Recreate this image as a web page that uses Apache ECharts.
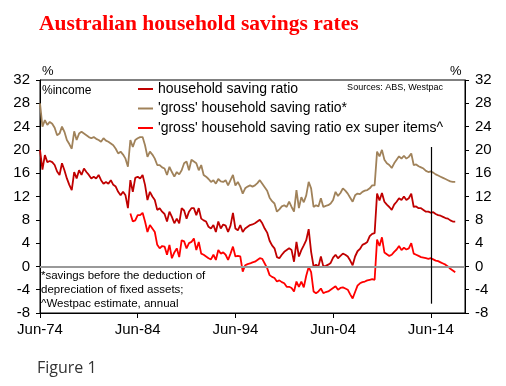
<!DOCTYPE html>
<html><head><meta charset="utf-8">
<script src="https://cdn.jsdelivr.net/npm/echarts@6/dist/echarts.min.js"></script>
<style>html,body{margin:0;padding:0;background:#fff}#c{width:506px;height:386px}</style>
</head><body><div id="c"></div>
<script>
// Quarterly categories Jun-74 .. Dec-17 (axis range)
const monthNames = ['Mar', 'Jun', 'Sep', 'Dec'];
const categories = [];
for (let i = 0; i < 175; i++) {
  const k = 1 + i;
  const yr = (1974 + Math.floor(k / 4)) % 100;
  categories.push(monthNames[k % 4] + '-' + (yr < 10 ? '0' + yr : '' + yr));
}
const yTicks = { min: -8, max: 32, interval: 4 };

// household saving ratio (from Jun-74)
const householdRatio = [
  20.0, 16.6, 19.1, 17.9, 18.1, 17.9, 17.4, 16.3, 15.7, 17.7,
  16.5, 15.1, 14.0, 13.1, 16.2, 15.1, 16.5, 15.7, 16.8, 16.2,
  15.7, 15.1, 15.4, 15.1, 15.7, 14.8, 14.2, 14.5, 14.2, 14.8,
  14.0, 13.7, 12.8, 12.2, 12.8, 12.2, 10.0, 14.8, 12.8, 15.2,
  15.4, 15.1, 15.7, 14.0, 11.4, 12.8, 12.0, 11.4, 9.7, 10.0,
  9.4, 9.0, 7.7, 9.4, 8.5, 7.4, 8.2, 7.4, 10.0, 9.6,
  8.2, 9.4, 10.0, 10.0, 8.8, 10.0, 8.2, 7.9, 7.7, 6.8,
  6.5, 7.1, 5.9, 7.7, 6.5, 7.2, 7.0, 5.9, 7.0, 9.2,
  6.5, 6.2, 7.1, 5.9, 6.5, 6.8, 7.1, 7.2, 7.4, 7.7,
  8.0, 7.4, 6.5, 5.8, 4.4, 3.6, 3.1, 1.6, 1.4, 2.0,
  2.5, 2.8, 3.1, 2.8, 0.8, 4.2, 1.7, 2.8, 3.6, 4.5,
  6.4, 2.5, 0.0, 0.3, 0.0, 1.7, 0.0, 0.1, 0.3, 0.6,
  1.5, 2.0, 1.4, 1.8, 2.2, 2.0, 1.7, 1.0, 0.2, 1.7,
  2.6, 3.0, 3.7, 3.9, 4.2, 5.2, 5.6, 5.7, 12.5, 11.3,
  12.6, 11.1, 10.6, 10.2, 9.7, 10.6, 11.1, 11.7, 11.4, 12.0,
  11.4, 11.7, 12.5, 10.2, 10.3, 10.0, 10.0, 9.7, 9.4, 9.4,
  9.2, 9.3, 9.0, 8.8, 8.7, 8.5, 8.3, 8.2, 7.9, 7.7, 7.7
];

// 'gross' household saving ratio* (from Jun-74)
const grossRatio = [
  28.0, 24.0, 25.1, 24.3, 24.8, 24.5, 23.8, 22.5, 22.8, 24.0,
  23.1, 21.7, 21.0, 20.2, 23.2, 21.7, 22.8, 23.1, 22.8, 22.5,
  22.2, 22.0, 22.2, 21.9, 21.7, 21.4, 22.0, 21.6, 21.4, 21.1,
  20.8, 20.2, 19.4, 19.7, 19.2, 18.5, 17.1, 21.7, 20.5, 21.7,
  22.0, 22.2, 22.2, 20.8, 18.8, 19.7, 19.2, 18.5, 17.4, 17.4,
  17.0, 16.8, 15.7, 17.1, 16.2, 15.4, 16.2, 15.8, 16.5, 17.7,
  18.0, 16.5, 18.3, 18.0, 17.7, 16.5, 17.4, 15.7, 15.4, 15.0,
  14.5, 14.8, 14.2, 15.0, 14.6, 14.5, 14.8, 13.9, 14.8, 15.7,
  13.9, 14.5, 13.7, 12.5, 13.4, 13.7, 13.9, 13.7, 13.9, 14.3,
  14.8, 14.2, 13.6, 13.0, 11.8, 11.2, 10.8, 9.4, 9.8, 10.3,
  10.5, 10.2, 11.1, 10.2, 9.4, 13.1, 10.0, 11.9, 11.0, 12.2,
  14.5, 13.4, 10.2, 10.5, 10.3, 11.7, 10.2, 10.4, 10.5, 10.8,
  11.4, 12.8, 12.1, 12.6, 13.4, 13.0, 12.5, 11.8, 11.1, 12.2,
  12.5, 12.4, 12.8, 13.0, 13.1, 13.4, 13.9, 13.9, 19.7, 18.9,
  20.0, 18.3, 17.7, 17.4, 16.9, 17.7, 18.3, 18.9, 18.5, 19.0,
  18.5, 18.8, 19.4, 17.4, 17.5, 17.2, 17.0, 16.8, 16.4, 16.2,
  16.3, 16.1, 15.8, 15.6, 15.4, 15.2, 15.0, 14.8, 14.6, 14.5, 14.5
];

// 'gross' household saving ratio ex super items^ (starts Sep-83)
const exSuperStart = 'Sep-83';
const exSuperRatio = [
  9.1, 7.7, 7.9, 8.8, 8.8, 9.2, 7.7, 5.9, 7.1, 6.5,
  5.9, 3.7, 3.1, 3.5, 3.4, 2.0, 3.7, 1.4, 2.4, 3.1,
  1.6, 4.5, 4.3, 3.1, 4.0, 4.2, 4.8, 2.8, 4.2, 2.2,
  2.0, 1.7, 1.4, 1.2, 2.0, 1.1, 2.8, 2.2, 2.4, 2.0,
  1.1, 2.2, 3.4, 1.7, 1.8, 1.7, -0.9, 0.2, 0.4, 0.5,
  0.7, 0.8, 1.1, 1.4, 1.3, 0.5, -0.3, -1.5, -1.8, -2.0,
  -2.6, -2.4, -2.7, -2.9, -3.5, -3.5, -3.7, -4.3, -2.6, -3.5,
  -2.6, -3.6, -1.6, -0.1, -1.0, -4.3, -4.6, -4.3, -3.8, -4.6,
  -4.4, -4.3, -4.0, -3.7, -3.4, -4.0, -3.7, -3.6, -3.8, -4.0,
  -4.8, -5.5, -4.4, -3.3, -2.9, -2.7, -2.6, -2.4, -2.3, -2.2,
  -2.3, 4.6, 3.5, 5.0, 2.4, 2.1, 1.8, 2.0, 2.5, 2.9,
  3.5, 2.8, 3.2, 2.9, 3.1, 4.0, 2.2, 2.0, 1.8, 1.6,
  1.5, 1.4, 1.3, 1.4, 1.2, 1.0, 0.9, 0.7, 0.5, 0.3,
  0.0, -0.4, -0.7, -1.0
];

const seriesNames = ["household saving ratio", "'gross' household saving ratio*", "'gross' household saving ratio ex super items^"];
const markerCategory = 'Jun-14';
const markerRange = [20.5, -6.4];

const exSuperPadded = new Array(categories.indexOf(exSuperStart)).fill(null).concat(exSuperRatio);

const FONT = 'Liberation Sans, Arial, sans-serif';
const chart = echarts.init(document.getElementById('c'), null, { renderer: 'canvas' });

const yAxisCommon = {
  type: 'value', min: yTicks.min, max: yTicks.max, interval: yTicks.interval,
  axisLine: { show: true, onZero: false, lineStyle: { color: '#000', width: 1 } },
  axisTick: { show: true, length: 4, lineStyle: { color: '#000' } },
  axisLabel: { color: '#000', fontSize: 15, fontFamily: FONT, margin: 10 },
  splitLine: { show: false }
};

chart.setOption({
  animation: false,
  backgroundColor: '#fff',
  title: {
    text: 'Australian household savings rates',
    left: 39, top: 13, padding: 0,
    textStyle: { color: '#ff0000', fontFamily: 'Liberation Serif, Times New Roman, serif', fontWeight: 'bold', fontSize: 21.5 }
  },
  grid: { left: 40, right: 41, top: 80, bottom: 73, show: true, borderColor: '#000', borderWidth: 1, backgroundColor: 'transparent' },
  legend: {
    orient: 'vertical', left: 138, top: 82, padding: 0,
    icon: 'rect', itemWidth: 15, itemHeight: 2, itemGap: 5.5,
    textStyle: { color: '#000', fontSize: 14, fontFamily: FONT, lineHeight: 14 },
    data: seriesNames
  },
  xAxis: {
    type: 'category', data: categories, boundaryGap: false,
    axisLine: { onZero: false, lineStyle: { color: '#000', width: 1 } },
    axisTick: { interval: 39, length: 5, lineStyle: { color: '#000' } },
    axisLabel: { interval: 39, color: '#000', fontSize: 15, fontFamily: FONT, margin: 9 },
    splitLine: { show: false }
  },
  yAxis: [
    Object.assign({}, yAxisCommon, { position: 'left' }),
    Object.assign({}, yAxisCommon, { position: 'right' })
  ],
  graphic: [
    { type: 'text', left: 42, top: 65, style: { text: '%', font: '13px ' + FONT, fill: '#000' } },
    { type: 'text', left: 450, top: 65, style: { text: '%', font: '13px ' + FONT, fill: '#000' } },
    { type: 'text', left: 42, top: 85, style: { text: '%income', font: '12px ' + FONT, fill: '#000' } },
    { type: 'text', right: 63, top: 83, style: { text: 'Sources: ABS, Westpac', font: '9px ' + FONT, fill: '#000' } },
    { type: 'text', left: 41, top: 270, style: { text: '*savings before the deduction of', font: '11.5px ' + FONT, fill: '#000' } },
    { type: 'text', left: 41, top: 284, style: { text: 'depreciation of fixed assets;', font: '11.5px ' + FONT, fill: '#000' } },
    { type: 'text', left: 41, top: 298, style: { text: '^Westpac estimate, annual', font: '11.5px ' + FONT, fill: '#000' } },
    { type: 'text', left: 37, top: 360, style: { text: 'Figure 1', font: '16px Open Sans, sans-serif', fill: '#333' } }
  ],
  series: [
    {
      name: seriesNames[0], type: 'line', data: householdRatio, symbol: 'none',
      lineStyle: { color: '#c00000', width: 1.8 }, itemStyle: { color: '#c00000' },
      markLine: {
        silent: true, symbol: 'none', label: { show: false },
        lineStyle: { color: '#999', width: 2, type: 'solid' },
        data: [{ yAxis: 0 }]
      }
    },
    {
      name: seriesNames[1], type: 'line', data: grossRatio, symbol: 'none',
      lineStyle: { color: '#a0825a', width: 1.8 }, itemStyle: { color: '#a0825a' }
    },
    {
      name: seriesNames[2], type: 'line', data: exSuperPadded, symbol: 'none',
      lineStyle: { color: '#ff0000', width: 1.8 }, itemStyle: { color: '#ff0000' },
      markLine: {
        silent: true, symbol: 'none', label: { show: false },
        lineStyle: { color: '#000', width: 1.2, type: 'solid' },
        data: [[{ coord: [markerCategory, markerRange[0]] }, { coord: [markerCategory, markerRange[1]] }]]
      }
    }
  ]
});
</script>
</body></html>
